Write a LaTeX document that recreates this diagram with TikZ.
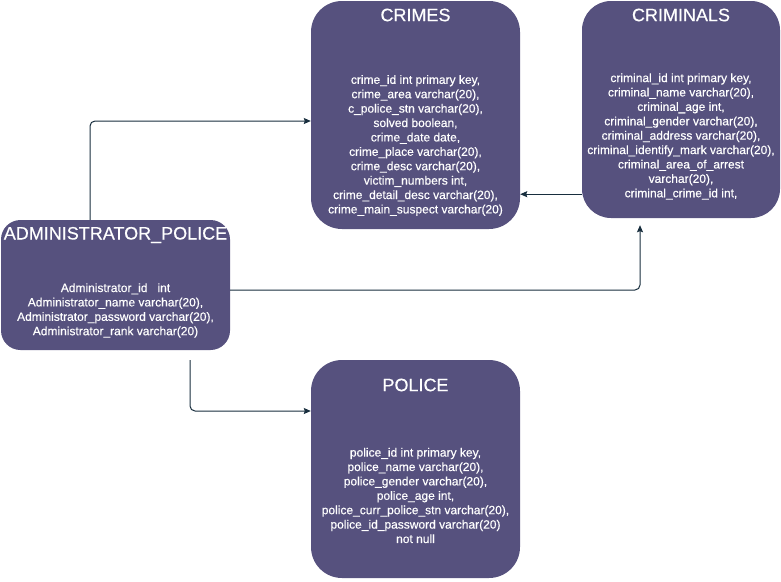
\documentclass[tikz,border=0pt]{standalone}
\usepackage{fontspec}
\setmainfont[FakeBold=0.4,AutoFakeBold=0.4]{Liberation Sans}
\newfontfamily\boxfont[FakeBold=0.4]{Liberation Sans}
\usetikzlibrary{arrows.meta,calc}
\definecolor{boxfill}{HTML}{56517E}
\definecolor{linecol}{HTML}{182E3E}
\begin{document}
\begin{tikzpicture}[x=1pt,y=-1pt,
  tbl/.style={draw=none, fill=boxfill, inner sep=0pt, rounded corners=#1},
  ttl/.style={text=white, inner sep=0pt, font=\boxfont\fontsize{18}{21.6}\selectfont},
  body/.style={text=white, inner sep=0pt, align=center, font=\boxfont\fontsize{12}{14.4}\selectfont},
  conn/.style={draw=linecol, line width=1pt, rounded corners=5pt, -{Stealth[length=7pt,width=6pt,inset=1pt]}}]
\useasboundingbox (0,0) rectangle (781,581);
% boxes
\node[tbl=31pt, minimum width=209pt, minimum height=228pt] (crimes) at (415.5,115) {};
\node[tbl=29pt, minimum width=198pt, minimum height=217pt] (criminals) at (681,109.5) {};
\node[tbl=19.5pt, minimum width=229pt, minimum height=130pt] (admin) at (115.5,285) {};
\node[tbl=31pt, minimum width=209pt, minimum height=218pt] (police) at (415.5,469) {};
% titles
\node[ttl] (crimesT) at (415.5,15) {CRIMES};
\node[ttl] (criminalsT) at (681,15) {CRIMINALS};
\node[ttl] (adminT) at (115.5,235) {ADMINISTRATOR\_POLICE};
\node[ttl] (policeT) at (415.5,385) {POLICE};
% bodies
\node[body] (crimesB) at (415.5,145.5) {crime\_id int primary key,\\crime\_area varchar(20),\\c\_police\_stn varchar(20),\\solved boolean,\\crime\_date date,\\crime\_place varchar(20),\\crime\_desc varchar(20),\\victim\_numbers int,\\crime\_detail\_desc varchar(20),\\crime\_main\_suspect varchar(20)};
\node[body] (criminalsB) at (681,136.5) {criminal\_id int primary key,\\criminal\_name varchar(20),\\criminal\_age int,\\criminal\_gender varchar(20),\\criminal\_address varchar(20),\\criminal\_identify\_mark varchar(20),\\criminal\_area\_of\_arrest\\varchar(20),\\criminal\_crime\_id int,};
\node[body] (adminB) at (115.5,310.5) {Administrator\_id\hspace{10pt}int\\Administrator\_name varchar(20),\\Administrator\_password varchar(20),\\Administrator\_rank varchar(20)};
\node[body] (policeB) at (415.5,495.5) {police\_id int primary key,\\police\_name varchar(20),\\police\_gender varchar(20),\\police\_age int,\\police\_curr\_police\_stn varchar(20),\\police\_id\_password varchar(20)\\not null};
% connector anchors
\coordinate (a1) at ([xshift=-25.5pt]admin.north);
\coordinate (b1) at ([yshift=-6pt]crimes.west);
\coordinate (a2) at ([yshift=24pt]criminals.south west);
\coordinate (a3) at ([yshift=-5pt]admin.east);
\coordinate (b3) at ([xshift=-41pt]criminals.south);
\coordinate (a4) at ([xshift=74.5pt]admin.south);
\coordinate (b4) at ([yshift=58pt]police.west);
% connectors
\draw[conn] (a1) |- (b1);
\draw[conn] (a2) -- (a2 -| crimes.east);
\draw[conn, shorten >=7pt] (a3) -| (b3);
\draw[conn, shorten <=10pt] (a4) |- (b4);
\end{tikzpicture}
\end{document}
